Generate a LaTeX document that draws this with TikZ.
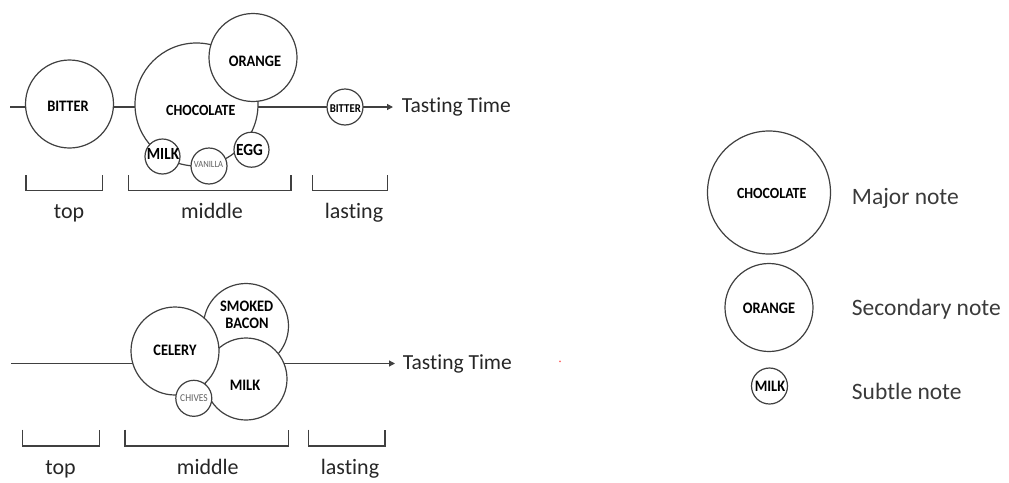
\documentclass[tikz,border=0pt]{standalone}
\usepackage{fontspec}
\setmainfont{Carlito}[Ligatures=NoCommon]
\newfontfamily\lblfont[FakeStretch=0.9,Ligatures=NoCommon]{Carlito}
\usetikzlibrary{arrows.meta}
\definecolor{linec}{HTML}{404040}
\definecolor{txt}{HTML}{262626}
\definecolor{legtxt}{HTML}{3A3A3A}
\definecolor{faint}{HTML}{606060}
\tikzset{
  note/.style={circle, draw=linec, line width=1.2pt, fill=white, inner sep=0pt, minimum size=#1},
  lbl/.style={text=black, font=\lblfont\bfseries\fontsize{#1}{#1}\selectfont, inner sep=0pt},
  flbl/.style={text=faint, font=\lblfont\fontsize{#1}{#1}\selectfont, inner sep=0pt},
  axisline/.style={draw=linec, line width=1.2pt},
  brk/.style={draw=linec, line width=1.2pt},
  captxt/.style={text=txt, font=\fontsize{22}{26}\selectfont, inner sep=0pt, anchor=base},
  timetxt/.style={text=txt, font=\fontsize{21.5}{26}\selectfont, inner sep=0pt, anchor=base west},
  legendtxt/.style={text=legtxt, font=\fontsize{23.5}{28}\selectfont, inner sep=0pt, anchor=base west},
}
\begin{document}
\begin{tikzpicture}[x=1pt, y=-1pt]
\useasboundingbox (0,0) rectangle (1009,482);

% ---------- top timeline ----------
\coordinate (s1) at (10,107);
\coordinate (e1) at (393,107);
\draw[axisline, -{Triangle[length=6pt,width=6pt]}] (s1) -- (e1);

\node[note=88]  (bitter) at (69.5,104) {};
\node[note=123] (choc)   at (196.5,104.5) {};
\node[note=88]  (orange) at (253,57.5) {};
\node[note=35]  (milk1)  at (162.5,156.5) {};
\node[note=36]  (van)    at (209,166) {};
\node[note=35]  (egg)    at (251.5,149.7) {};
\node[note=36]  (sbit)   at (345,107) {};

\node[lbl=16]   (bitterT) at (68,106.5) {BITTER};
\node[lbl=15.5] (chocT)   at (200.8,110) {CHOCOLATE};
\node[lbl=16]   (orangeT) at (255,61) {ORANGE};
\node[lbl=17]   (milk1T)  at (163,154) {MILK};
\node[flbl=9.5] (vanT)    at (208.5,164.5) {VANILLA};
\node[lbl=17]   (eggT)    at (249.5,149.5) {EGG};
\node[lbl=12]   (sbitT)   at (345.3,108.5) {BITTER};

\node[timetxt] (time1) at (401.7,112) {Tasting Time};

\draw[brk] (26,175) -- (26,190.5) -- (102.3,190.5) -- (102.3,175);
\draw[brk] (128.3,175) -- (128.3,190.5) -- (291,190.5) -- (291,175);
\draw[brk] (312.3,175) -- (312.3,190.5) -- (387.7,190.5) -- (387.7,175);
\node[captxt] (top1) at (69,218.3) {top};
\node[captxt] (mid1) at (212,218.3) {middle};
\node[captxt] (last1) at (354,218.3) {lasting};

% ---------- bottom timeline ----------
\coordinate (s2) at (11,363.5);
\coordinate (e2) at (395,363.5);
\draw[axisline, -{Triangle[length=6pt,width=6pt]}] (s2) -- (e2);

\node[note=85] (bacon)  at (246,326) {};
\node[note=82] (milk2)  at (246,379) {};
\node[note=88] (celery) at (175,351) {};
\node[note=36] (chives) at (193.8,398.3) {};

\node[lbl=16] (celeryT) at (175,350) {CELERY};
\node[lbl=16] (smokT)   at (246.7,306) {SMOKED};
\node[lbl=16] (baconT)  at (247,323.3) {BACON};
\node[lbl=16] (milk2T)  at (245,385) {MILK};
\node[flbl=10.5] (chivesT) at (194,398.3) {CHIVES};

\node[timetxt] (time2) at (402.7,369.3) {Tasting Time};

\draw[brk] (22.7,429.5) -- (22.7,446) -- (99.3,446) -- (99.3,429.5);
\draw[brk] (125,429.5) -- (125,446) -- (288.7,446) -- (288.7,429.5);
\draw[brk] (308.7,429.5) -- (308.7,446) -- (385,446) -- (385,429.5);
\node[captxt] (top2) at (60.5,474) {top};
\node[captxt] (mid2) at (207.8,474) {middle};
\node[captxt] (last2) at (350,474) {lasting};

% stray mark
\fill[red!60] (560,361.3) circle (1pt);

% ---------- legend ----------
\node[note=123] (lmajor) at (769,192.5) {};
\node[note=88]  (lsec)   at (769,307.5) {};
\node[note=36]  (lsub)   at (769.5,386) {};
\node[lbl=15.5] (lmajorT) at (771.7,193.3) {CHOCOLATE};
\node[lbl=16]   (lsecT)   at (769,308.3) {ORANGE};
\node[lbl=16]   (lsubT)   at (770,386) {MILK};
\node[legendtxt] (majT) at (851.7,204) {Major note};
\node[legendtxt] (secT) at (851.7,315.7) {Secondary note};
\node[legendtxt] (subT) at (851.7,399.3) {Subtle note};
\end{tikzpicture}
\end{document}
